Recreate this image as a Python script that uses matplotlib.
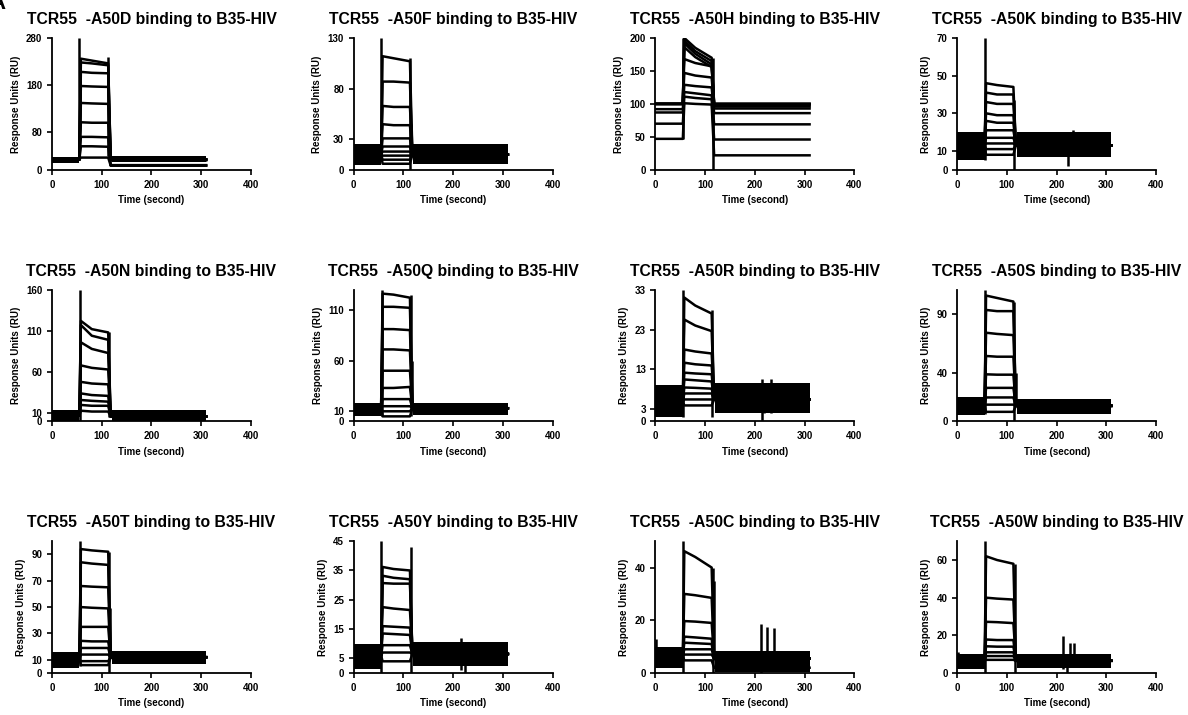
import numpy as np
import matplotlib
matplotlib.use('Agg')
import matplotlib.pyplot as plt

plt.rcParams['font.family'] = ['Liberation Sans', 'DejaVu Sans']
plt.rcParams['font.weight'] = 'bold'
plt.rcParams['axes.labelweight'] = 'bold'
plt.rcParams['axes.titleweight'] = 'bold'

# time points of each trace: baseline, injection start, assoc start, mid, assoc end, dissoc, end
time_pts = [0, 55, 58, 80, 113, 118, 310]

mutants = ['D', 'F', 'H', 'K', 'N', 'Q', 'R', 'S', 'T', 'Y', 'C', 'W']

ytop = [280, 130, 200, 70, 160, 130, 33, 110, 100, 45, 50, 70]
yticks = [
    [0, 80, 180, 280],
    [0, 30, 80, 130],
    [0, 50, 100, 150, 200],
    [0, 10, 30, 50, 70],
    [0, 10, 60, 110, 160],
    [0, 10, 60, 110],
    [0, 3, 13, 23, 33],
    [0, 40, 90],
    [0, 10, 30, 50, 70, 90],
    [0, 5, 15, 25, 35, 45],
    [0, 20, 40],
    [0, 20, 40, 60],
]

# noise envelope of the overlapping baselines (before / after injection)
band_pre = [(14, 28), (5, 25), None, (5, 20), (0, 14), (5, 18),
            (1, 9), (5, 20), (4, 16), (1.5, 10), (2, 10), (2, 10)]
band_post = [(16, 29), (6, 25), None, (7, 20), (0, 14), (6, 18),
             (2, 9.5), (6, 19), (7, 17), (2.5, 10.5), (0.5, 8.5), (2.5, 10)]

# traces: (baseline, assoc start, assoc mid, assoc end, dissociation)
a50d = [(22, 236, 232, 226, 22), (22, 228, 226, 222, 22), (22, 208, 206, 205, 22),
        (22, 178, 177, 176, 22), (22, 142, 141, 140, 22), (22, 101, 100, 100, 20),
        (22, 70, 70, 69, 10), (22, 50, 50, 49, 9), (22, 26, 26, 26, 9)]
a50f = [(15, 112, 110, 107, 15), (15, 87, 87, 86, 15), (15, 63, 62, 62, 15),
        (15, 45, 44, 44, 15), (15, 31, 31, 31, 15), (15, 23, 23, 23, 15),
        (15, 18, 18, 18, 15), (15, 14, 14, 14, 15), (15, 10, 10, 10, 15),
        (15, 6, 6, 6, 15)]
a50h = [(100, 200, 185, 170, 100), (100, 196, 180, 165, 100), (100, 192, 176, 160, 98),
        (100, 186, 171, 156, 96), (100, 168, 162, 157, 100), (100, 147, 143, 140, 93),
        (92, 129, 127, 125, 86), (87, 118, 116, 113, 69), (70, 111, 109, 107, 46),
        (47, 101, 100, 99, 22)]
a50k = [(13, 46, 45, 44, 13), (13, 41, 40, 40, 13), (13, 36, 35, 35, 13),
        (13, 30, 29, 29, 13), (13, 26, 25, 25, 13), (13, 21, 21, 21, 13),
        (13, 17, 17, 17, 13), (13, 14, 14, 14, 13), (13, 11, 11, 11, 13),
        (13, 8, 8, 8, 13)]
a50n = [(7, 122, 112, 108, 6), (7, 117, 104, 99, 6), (7, 96, 88, 83, 6),
        (7, 68, 65, 63, 6), (7, 48, 46, 45, 6), (7, 34, 32, 31, 6),
        (7, 26, 25, 24, 6), (7, 20, 19, 19, 6), (7, 13, 12, 12, 6)]
a50q = [(13, 126, 125, 122, 13), (13, 113, 113, 112, 13), (13, 91, 91, 90, 13),
        (13, 71, 71, 70, 13), (13, 50, 50, 50, 13), (13, 33, 33, 34, 13),
        (13, 22, 22, 22, 13), (13, 15, 15, 15, 13), (13, 10, 10, 10, 13),
        (13, 5, 5, 5, 13)]
a50r = [(5, 31, 29, 27, 5.5), (5, 25.5, 24, 22.6, 5.5), (5, 18, 17.5, 17, 5.5),
        (5, 14.7, 14.3, 14, 5.5), (5, 12.2, 12, 11.8, 5.5), (5, 10.5, 10.3, 10, 5.5),
        (5, 8.5, 8.4, 8.2, 5.5), (5, 7, 7, 7, 5.5), (5, 5.5, 5.5, 5.5, 5.5),
        (5, 4, 4, 4, 5.5)]
a50s = [(13, 105, 103, 100, 13), (13, 93, 92, 92, 13), (13, 74, 73, 72, 13),
        (13, 54.6, 54, 54, 13), (13, 39.3, 39, 39, 13), (13, 28, 28, 28, 13),
        (13, 20, 20, 20, 13), (13, 14, 14, 14, 13), (13, 8, 8, 8, 13)]
a50t = [(10.5, 94, 93, 92, 12), (10.5, 84, 83, 82, 12), (10.5, 66, 65.5, 65, 12),
        (10.5, 50, 49.5, 49, 12), (10.5, 35, 35, 35, 12), (10.5, 24.4, 24, 24, 12),
        (10.5, 19, 19, 19, 12), (10.5, 14, 14, 14, 12), (10.5, 9, 9, 9, 12),
        (10.5, 6, 6, 6, 12)]
a50y = [(6, 36.2, 35.5, 35, 6.5), (6, 33.2, 32.5, 32, 6.5), (6, 30.7, 30.5, 30.5, 6.5),
        (6, 22.5, 22, 21.5, 6.5), (6, 16, 15.8, 15.5, 6.5), (6, 13.5, 13.3, 13, 6.5),
        (6, 9.5, 9.5, 9.5, 6.5), (6, 7, 7, 7, 6.5), (6, 4, 4, 4, 6.5)]
a50c = [(6.5, 46.2, 44, 40, 5.5), (6.5, 30, 29.5, 28.5, 5.5), (6.5, 19.7, 19.5, 19, 5.5),
        (6.5, 13.8, 13.5, 13, 5.5), (6.5, 11.5, 11.3, 11, 5.5), (6.5, 9, 9, 9, 5.5),
        (6.5, 7, 7, 7, 5.5), (6.5, 4.8, 4.8, 4.8, 2)]
a50w = [(6.5, 62, 60, 58, 6.5), (6.5, 40, 39.5, 39, 6.5), (6.5, 27.2, 27, 26.5, 6.5),
        (6.5, 17.8, 17.5, 17.5, 6.5), (6.5, 14.2, 14, 14, 6.5), (6.5, 11, 11, 11, 6.5),
        (6.5, 9, 9, 9, 6.5), (6.5, 7, 7, 7, 6.5)]
traces = [a50d, a50f, a50h, a50k, a50n, a50q, a50r, a50s, a50t, a50y, a50c, a50w]

# injection artefacts: (time, low, high)
spikes = [
    [(55, 20, 280), (113, 30, 240)],
    [(55, 10, 130), (114, 0, 110), (116, 15, 45)],
    [(55, 47, 200), (116, 0, 170)],
    [(56, 5, 70), (115, 0, 37), (222, 2, 12), (232, 12, 21)],
    [(57, 0, 160), (114, 5, 108)],
    [(56, 5, 130), (115, 5, 125), (118, 13, 60)],
    [(56, 1, 33), (114, 1, 28), (214, 0, 10.5), (218, 2, 9), (233, 2, 10.5), (238, 3, 9.5)],
    [(56, 6, 110), (115, 0, 100), (118, 13, 40)],
    [(56, 5, 100), (115, 0, 92), (117, 12, 49)],
    [(55, 0, 45), (116, 0, 43), (215, 1, 12), (223, 0, 10)],
    [(1, 6, 13), (55, 0, 50), (115, 0, 40), (117, 5, 35), (213, 0, 18.5), (225, 1, 17.5), (238, 1, 17)],
    [(1, 3, 11), (56, 0, 70), (116, 0, 58), (213, 2, 19.5), (220, 0, 8), (226, 3, 16), (235, 4, 16)],
]

fig, axes = plt.subplots(3, 4, figsize=(11.88, 7.15), dpi=100)
plt.subplots_adjust(left=0.0438, right=0.9731, bottom=0.0587, top=0.9469,
                    wspace=0.5176, hspace=0.908)

for i, ax in enumerate(axes.flat):
    if band_pre[i] is not None:
        ax.fill_between([0, 55], band_pre[i][0], band_pre[i][1], color='black', lw=0)
        ax.fill_between([120, 310], band_post[i][0], band_post[i][1], color='black', lw=0)
    for b, a0, am, a1, d in traces[i]:
        ax.plot(time_pts, [b, b, a0, am, a1, d, d], color='black', lw=1.8)
    for t, lo, hi in spikes[i]:
        ax.vlines(t, lo, hi, color='black', lw=1.8)

    ax.set_xlim(0, 400)
    ax.set_ylim(0, ytop[i])
    ax.set_xticks([0, 100, 200, 300, 400])
    ax.set_yticks(yticks[i])
    ax.spines['top'].set_visible(False)
    ax.spines['right'].set_visible(False)
    ax.spines['left'].set_linewidth(1.3)
    ax.spines['bottom'].set_linewidth(1.3)
    ax.tick_params(labelsize=7, width=1.2, length=3.5)
    for lab in ax.get_xticklabels() + ax.get_yticklabels():
        lab.set_fontweight('bold')
    ax.set_xlabel('Time (second)', fontsize=7)
    ax.set_ylabel('Response Units (RU)', fontsize=7)
    ax.set_title('TCR55  -A50%s binding to B35-HIV' % mutants[i], fontsize=11.3, pad=10)

fig.text(-0.009, 1.01, 'A', fontsize=16, fontweight='bold', va='top', ha='left')

fig.savefig('out.png', dpi=100)
